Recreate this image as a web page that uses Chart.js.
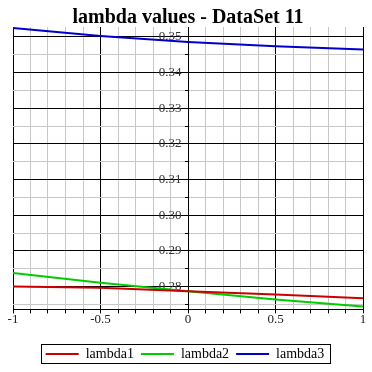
<!DOCTYPE html>
<html>
<head>
<meta charset="utf-8">
<script src="https://cdn.jsdelivr.net/npm/chart.js@4.4.1/dist/chart.umd.min.js"></script>
<style>
html, body { margin: 0; padding: 0; background: #fff; }
#wrap { width: 372px; height: 372px; }
</style>
</head>
<body>
<div id="wrap"><canvas id="chart"></canvas></div>
<script>
// values
const xValues = [-1, -0.5, 0, 0.5, 1]
const lambda1 = [0.2800, 0.2797, 0.2787, 0.2778, 0.2767]
const lambda2 = [0.2838, 0.2811, 0.2787, 0.2764, 0.2744]
const lambda3 = [0.3525, 0.3503, 0.3486, 0.3474, 0.3465]
const seriesNames = ['lambda1', 'lambda2', 'lambda3']
const seriesColors = ['#cc0000', '#00cc00', '#0000cc']

const xTicks = [-1, -0.5, 0, 0.5, 1]
const xTickLabels = ['-1', '-0.5', '0', '0.5', '1']
const yTicks = [0.28, 0.29, 0.30, 0.31, 0.32, 0.33, 0.34, 0.35]
const yTickLabels = ['0.28', '0.29', '0.30', '0.31', '0.32', '0.33', '0.34', '0.35']

const serif = "'Liberation Serif', 'DejaVu Serif', serif"

function labelFor(v, ticks, labels) {
    for (let i = 0; i < ticks.length; i++) {
        if (Math.abs(v - ticks[i]) < 1e-7) return labels[i]
    }
    return ''
}

const series = [lambda1, lambda2, lambda3]
const datasets = series.map((vals, i) => ({
    label: seriesNames[i],
    data: xValues.map((x, j) => ({ x: x, y: vals[j] })),
    borderColor: seriesColors[i],
    backgroundColor: seriesColors[i],
    borderWidth: 2,
    pointRadius: 0,
    tension: 0,
    fill: false
}))

// legend sits centred on the canvas, not on the padded area; and has a frame
const legendFrame = {
    id: 'legendFrame',
    afterLayout(chart) {
        chart.legend.left -= 3
        chart.legend.right -= 3
    },
    afterDraw(chart) {
        const boxes = chart.legend && chart.legend.legendHitBoxes
        if (!boxes || !boxes.length) return
        let l = Infinity, r = -Infinity, t = Infinity, b = -Infinity
        boxes.forEach(h => {
            l = Math.min(l, h.left); r = Math.max(r, h.left + h.width)
            t = Math.min(t, h.top); b = Math.max(b, h.top + h.height)
        })
        const ctx = chart.ctx
        ctx.save()
        ctx.strokeStyle = '#000'
        ctx.lineWidth = 1
        ctx.strokeRect(Math.round(l - 5) + 0.5, Math.round(t - 3) + 0.5, Math.round(r - l + 10), Math.round(b - t + 5))
        ctx.restore()
    }
}

new Chart(document.getElementById('chart'), {
    type: 'line',
    data: { datasets: datasets },
    options: {
        animation: false,
        responsive: true,
        maintainAspectRatio: false,
        layout: { padding: { left: 13, right: 9, top: 0, bottom: 1 } },
        plugins: {
            title: {
                display: true,
                text: 'lambda values - DataSet 11',
                color: '#000',
                font: { family: serif, size: 20, weight: 'bold', lineHeight: 0.95 },
                padding: { top: 8, bottom: 0 }
            },
            legend: {
                position: 'bottom',
                labels: {
                    usePointStyle: true,
                    pointStyle: 'line',
                    pointStyleWidth: 33,
                    color: '#000',
                    font: { family: serif, size: 14 },
                    padding: 7
                }
            },
            tooltip: { enabled: false }
        },
        scales: {
            x: {
                type: 'linear',
                position: 'bottom',
                min: -1,
                max: 1,
                border: { color: '#000', width: 1 },
                grid: {
                    color: c => labelFor(c.tick.value, xTicks, xTickLabels) ? '#000' : '#c8c8c8',
                    tickColor: '#000',
                    tickLength: 4
                },
                ticks: {
                    stepSize: 0.1,
                    autoSkip: false,
                    maxRotation: 0,
                    color: '#222',
                    font: { family: serif, size: 13 },
                    padding: -2,
                    callback: v => labelFor(v, xTicks, xTickLabels)
                },
                afterFit: scale => { scale.height += 15 }
            },
            y: {
                type: 'linear',
                position: { x: 0 },
                min: 0.2736,
                max: 0.3528,
                border: { color: '#000', width: 1 },
                grid: {
                    color: c => labelFor(c.tick.value, yTicks, yTickLabels) ? '#000' : '#c8c8c8',
                    tickColor: '#000',
                    tickLength: 3
                },
                ticks: {
                    stepSize: 0.005,
                    includeBounds: false,
                    autoSkip: false,
                    color: '#333',
                    font: { family: serif, size: 13 },
                    callback: v => {
                        const s = labelFor(v, yTicks, yTickLabels)
                        return s ? s + '  ' : ''
                    }
                }
            }
        }
    },
    plugins: [legendFrame]
})
</script>
</body>
</html>
